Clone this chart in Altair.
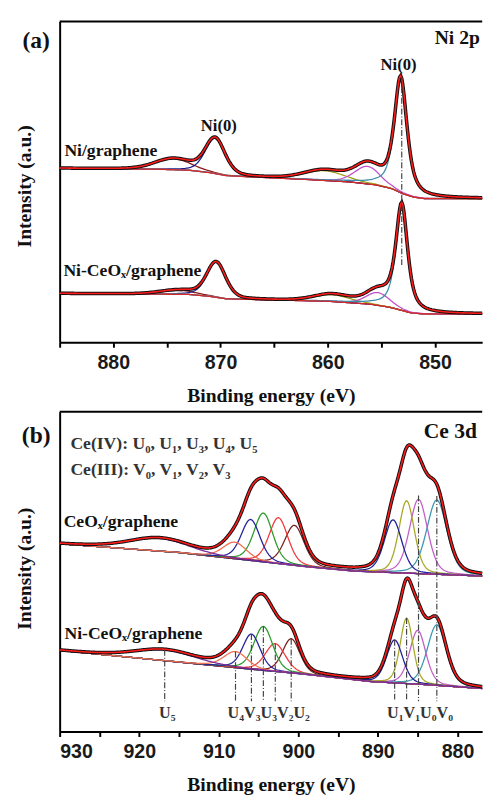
import numpy as np
import pandas as pd
import altair as alt

SERIF = "Liberation Serif"
SANS = "Liberation Sans"

# ---------------- (a) Ni 2p ----------------
A_DOMAIN = [885.0, 845.6]
A_W, A_H = 432, 328
ni_names = ["sat 2p1/2", "2p1/2", "sat 2p3/2", "shoulder 2p3/2", "2p3/2"]
ni_colors = ["#8b1c1c", "#1c1c8c", "#a0a020", "#c050c8", "#3a8fa8"]

# Ni/graphene fit components: centre (eV), height, FWHM (eV), Lorentzian fraction
nig_center = [874.4, 870.5, 860.3, 856.3, 853.2]
nig_height = [11, 36, 10, 18, 118]
nig_fwhm = [4.0, 2.2, 4.5, 2.8, 1.4]
nig_lor = [0.2, 0.3, 0.2, 0.3, 0.7]
nig_bg_e = [885, 876, 873, 871, 869.5, 867, 862, 858, 855.5, 854, 853, 852, 851, 845.6]
nig_bg_i = [178, 177, 176, 173.5, 170.5, 169, 166.5, 164, 161, 157, 152, 148.5, 147, 147]

# Ni-CeOx/graphene fit components
nic_center = [874.0, 870.4, 859.6, 855.3, 853.1]
nic_height = [4, 36, 7, 13, 108]
nic_fwhm = [4.0, 2.1, 4.0, 2.6, 1.3]
nic_lor = [0.2, 0.3, 0.2, 0.3, 0.7]
nic_bg_e = [885, 873, 871, 869.5, 866, 860, 856, 854.3, 853.2, 852.2, 851, 845.6]
nic_bg_i = [50, 49, 47, 44.5, 43.5, 42, 39, 36, 33, 30, 29, 29]

a_ticks = [850, 855, 860, 865, 870, 875, 880, 885]

# ---------------- (b) Ce 3d ----------------
B_DOMAIN = [930.0, 876.9]
B_W, B_H = 432, 327
ce_names = ["U5", "U4", "V3", "U3", "V2", "U2", "U1", "V1", "U0", "V0"]
ce_colors = ["#7b2a9a", "#f07050", "#22229a", "#2e9a2e", "#f03a3a",
             "#7a1f1f", "#22229a", "#a8a825", "#c060c8", "#3a98b0"]
# peak-assignment captions written under the lower spectrum
ce_captions = ["U₅", "U₄V₃U₃V₂U₂", "U₁V₁U₀V₀"]
ce_caption_e = [917.5, 908.9, 888.85]

# CeOx/graphene
ceg_center = [917.5, 908.0, 906.0, 904.4, 902.5, 900.5, 888.1, 886.4, 884.9, 882.6]
ceg_height = [13, 17, 42, 50, 47, 41, 54, 74, 76, 76]
ceg_fwhm = [9.0, 3.5, 2.8, 2.8, 2.8, 2.9, 2.6, 2.3, 2.7, 3.0]
ceg_bg_e = [930, 915, 905, 899, 893, 885, 876.9]
ceg_bg_i = [192, 183, 174, 168.5, 164, 161.5, 159]

# Ni-CeOx/graphene
cen_center = [916.8, 907.9, 905.9, 904.4, 902.9, 900.9, 887.9, 886.4, 885.0, 882.6]
cen_height = [11, 16.5, 36, 45, 28.5, 35, 44, 67, 55, 62]
cen_fwhm = [9.0, 3.5, 2.6, 2.8, 3.0, 2.6, 2.4, 1.9, 2.4, 2.8]
cen_bg_e = [930, 915, 905, 899.7, 890.8, 884, 876.9]
cen_bg_i = [83, 71, 63, 59, 51, 48, 44]
ce_lor = 0.3

b_ticks = [880, 885, 890, 895, 900, 905, 910, 915, 920, 925, 930]


def pseudo_voigt(e, c, h, w, m):
    d = (e - c) / w
    return h * ((1 - m) * np.exp(-4 * np.log(2) * d ** 2) + m / (1 + 4 * d ** 2))


def bg_at(e, bg_e, bg_i):
    return np.interp(e, bg_e[::-1], bg_i[::-1])


def spectrum(tag, e, names, centers, heights, fwhms, lors, bg_e, bg_i):
    bg = bg_at(e, bg_e, bg_i)
    rows = [pd.DataFrame({"E": e, "I": bg, "curve": f"{tag}:bg"})]
    total = bg.copy()
    for n, c, h, w, m in zip(names, centers, heights, fwhms, lors):
        p = pseudo_voigt(e, c, h, w, m)
        total += p
        rows.append(pd.DataFrame({"E": e, "I": bg + p, "curve": f"{tag}:{n}"}))
    rows.append(pd.DataFrame({"E": e, "I": total, "curve": f"{tag}:fit"}))
    return pd.concat(rows, ignore_index=True)


def x_enc(domain, ticks):
    return alt.X(
        "E:Q",
        scale=alt.Scale(domain=domain, nice=False, zero=False),
        axis=alt.Axis(
            values=ticks, labelExpr="datum.value % 10 == 0 ? datum.label : ''",
            labelFont=SANS, labelFontWeight="bold", labelFontSize=20, labelColor="#1a1a1a",
            labelPadding=6, tickColor="black", tickWidth=2, tickSize=5,
            domainColor="black", domainWidth=2, grid=False,
            title="Binding energy (eV)", titleFont=SERIF, titleFontSize=20,
            titleFontWeight="bold", titleColor="#111", titlePadding=13,
        ),
    )


def y_enc(h, title_y):
    return alt.Y(
        "I:Q",
        scale=alt.Scale(domain=[0, h], nice=False, zero=False),
        axis=alt.Axis(
            ticks=False, labels=False, grid=False, domainColor="black", domainWidth=2,
            title="Intensity (a.u.)", titleFont=SERIF, titleFontSize=20, titleFontWeight="bold",
            titleColor="#111", titleX=-36, titleY=title_y, titleAngle=270,
            titleAlign="center", titleBaseline="middle",
        ),
    )


def curves_layers(df, tags, names, colors, order, bg_color, bg_on_top, X, Y):
    layers = []
    base = alt.Chart(df)
    for tag in tags:
        bg_layer = (base.transform_filter(alt.datum.curve == f"{tag}:bg")
                    .mark_line(strokeWidth=1.3, color=bg_color).encode(x=X, y=Y))
        if not bg_on_top:
            layers.append(bg_layer)
        for i in order:
            layers.append(base.transform_filter(alt.datum.curve == f"{tag}:{names[i]}")
                          .mark_line(strokeWidth=1.3, color=colors[i]).encode(x=X, y=Y))
        if bg_on_top:
            layers.append(bg_layer)
        fit = base.transform_filter(alt.datum.curve == f"{tag}:fit")
        layers.append(fit.mark_line(strokeWidth=3.6, color="#111").encode(x=X, y=Y))
        layers.append(fit.mark_line(strokeWidth=1.6, color="#ff1a1a").encode(x=X, y=Y))
    return layers


def text_layer(rows, X, Y, size, align, color="#111", baseline="middle"):
    return alt.Chart(pd.DataFrame(rows, columns=["text", "E", "I"])).mark_text(
        font=SERIF, fontWeight="bold", fontSize=size, align=align, baseline=baseline, color=color
    ).encode(x=X, y=Y, text="text:N")


def frame_top(w):
    return alt.Chart(pd.DataFrame({"k": [0]})).mark_rule(color="black", strokeWidth=2).encode(
        x=alt.value(0), x2=alt.value(w), y=alt.value(0))


DASHDOT = [6, 2, 1, 2]

# ----- panel (a) -----
ea = np.round(np.arange(845.6, 885.0001, 0.1), 2)
df_a = pd.concat([
    spectrum("g", ea, ni_names, nig_center, nig_height, nig_fwhm, nig_lor, nig_bg_e, nig_bg_i),
    spectrum("c", ea, ni_names, nic_center, nic_height, nic_fwhm, nic_lor, nic_bg_e, nic_bg_i),
], ignore_index=True)

XA = x_enc(A_DOMAIN, a_ticks)
YA = y_enc(A_H, 168)
layers_a = curves_layers(df_a, ["g", "c"], ni_names, ni_colors, [0, 1, 2, 3, 4],
                         "#d42a2a", True, XA, YA)

ni_rule = pd.DataFrame({"E": [853.1], "I": [272], "I2": [78]})
layers_a.append(alt.Chart(ni_rule).mark_rule(color="#444", strokeWidth=1.2, strokeDash=DASHDOT)
                .encode(x=XA, y=YA, y2="I2:Q"))
layers_a += [
    text_layer([["(a)", 887.2, 308]], XA, YA, 24, "center"),
    text_layer([["Ni 2p", 845.82, 311]], XA, YA, 20, "right"),
    text_layer([["Ni(0)", 870.16, 221], ["Ni(0)", 853.4, 283]], XA, YA, 17, "center"),
    text_layer([["Ni/graphene", 884.56, 196], ["Ni-CeOₓ/graphene", 884.65, 73]], XA, YA, 18, "left"),
    frame_top(A_W),
]
panel_a = alt.layer(*layers_a).properties(width=A_W, height=A_H)

# ----- panel (b) -----
eb = np.round(np.arange(876.9, 930.0001, 0.1), 2)
lors = [ce_lor] * len(ce_names)
df_b = pd.concat([
    spectrum("g", eb, ce_names, ceg_center, ceg_height, ceg_fwhm, lors, ceg_bg_e, ceg_bg_i),
    spectrum("c", eb, ce_names, cen_center, cen_height, cen_fwhm, lors, cen_bg_e, cen_bg_i),
], ignore_index=True)

XB = x_enc(B_DOMAIN, b_ticks)
YB = y_enc(B_H, 160)
draw_order = [9, 8, 7, 6, 5, 4, 3, 2, 1, 0]
layers_b = curves_layers(df_b, ["g", "c"], ce_names, ce_colors, draw_order,
                         "#3b2a9a", False, XB, YB)

# dash-dot markers from each component maximum down to the captions
rule_e, rule_top = [], []
for i, n in enumerate(ce_names):
    if n in ("U0", "V0"):
        c = ceg_center[i]
        top = float(bg_at(c, ceg_bg_e, ceg_bg_i)) + ceg_height[i] + 4
    else:
        c = cen_center[i]
        top = float(bg_at(c, cen_bg_e, cen_bg_i)) + cen_height[i]
    rule_e.append(c)
    rule_top.append(top)
ce_rules = pd.DataFrame({"E": rule_e, "I": rule_top, "I2": [31] * len(ce_names)})
layers_b.append(alt.Chart(ce_rules).mark_rule(color="#444", strokeWidth=1.2, strokeDash=DASHDOT)
                .encode(x=XB, y=YB, y2="I2:Q"))
caption_rows = [[t, e, 14] for t, e in zip(ce_captions, ce_caption_e)]
layers_b += [
    text_layer(caption_rows, XB, YB, 16.5, "left", "#333", "alphabetic"),
    text_layer([["(b)", 932.95, 302]], XB, YB, 24, "center"),
    text_layer([["Ce 3d", 877.55, 307]], XB, YB, 22, "right"),
    text_layer([["Ce(IV): U₀, U₁, U₃, U₄, U₅", 928.65, 294],
                ["Ce(III): V₀, V₁, V₂, V₃", 928.65, 267]], XB, YB, 18, "left", "#333"),
    text_layer([["CeOₓ/graphene", 929.5, 214], ["Ni-CeOₓ/graphene", 929.4, 100]], XB, YB, 18, "left"),
    frame_top(B_W),
]
panel_b = alt.layer(*layers_b).properties(width=B_W, height=B_H)

chart = alt.vconcat(panel_a, panel_b, spacing=71, bounds="flush").properties(
    padding={"left": 15, "top": 12, "right": 0, "bottom": 0}
).configure_view(stroke=None)

chart.save("out.html", embed_options={"renderer": "svg", "actions": False})
